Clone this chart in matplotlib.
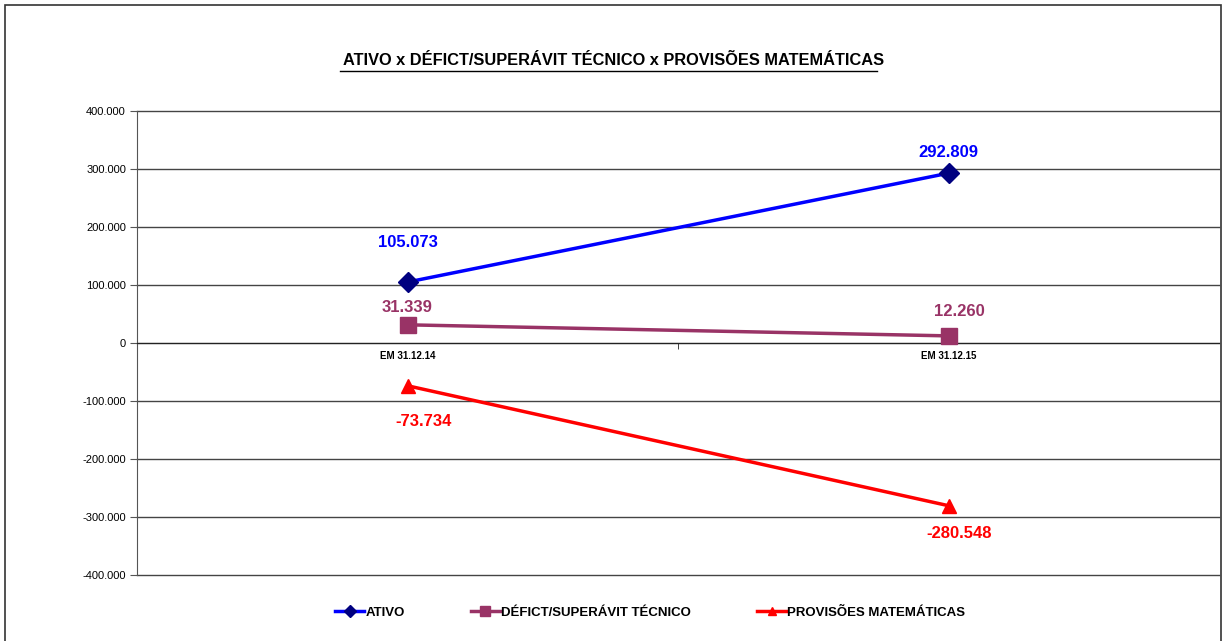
import matplotlib
matplotlib.use("Agg")
import matplotlib.pyplot as plt
from matplotlib.patches import Rectangle

categories = ["EM 31.12.14", "EM 31.12.15"]
ativo = [105073, 292809]
deficit = [31339, 12260]
provisoes = [-73734, -280548]
labels_ativo = ["105.073", "292.809"]
labels_deficit = ["31.339", "12.260"]
labels_prov = ["-73.734", "-280.548"]
yticks = [-400000, -300000, -200000, -100000, 0, 100000, 200000, 300000, 400000]
ytick_labels = ["-400.000", "-300.000", "-200.000", "-100.000", "0", "100.000", "200.000", "300.000", "400.000"]

plt.rcParams['font.family'] = ['Liberation Sans', 'DejaVu Sans']

fig = plt.figure(figsize=(12.27, 6.41), dpi=100)
fig.patches.append(Rectangle((0.004, -0.05), 0.991, 1.042, transform=fig.transFigure,
                             fill=False, edgecolor='#333333', linewidth=1.2))
ax = fig.add_axes([0.1117, 0.1030, 0.8818, 0.7238])

x = list(range(len(categories)))
c_ativo = '#0000FF'
c_def = '#993366'
c_prov = '#FF0000'

ax.plot(x, ativo, color=c_ativo, linewidth=2.5, marker='D', markersize=10,
        markerfacecolor='#000080', markeredgecolor='#000080', label='ATIVO', zorder=5)
ax.plot(x, deficit, color=c_def, linewidth=2.5, marker='s', markersize=11,
        markerfacecolor=c_def, markeredgecolor=c_def, label='DÉFICT/SUPERÁVIT TÉCNICO', zorder=5)
ax.plot(x, provisoes, color=c_prov, linewidth=2.5, marker='^', markersize=10,
        markerfacecolor=c_prov, markeredgecolor=c_prov, label='PROVISÕES MATEMÁTICAS', zorder=5)

# data labels
offs_ativo = [(0, 68000), (0, 35000)]
for i, (v, t) in enumerate(zip(ativo, labels_ativo)):
    ax.text(x[i] + 0.0, v + offs_ativo[i][1], t, color=c_ativo, fontsize=12, fontweight='bold',
            ha='center', va='center')
offs_def = [(0, 30000), (0.02, 42000)]
for i, (v, t) in enumerate(zip(deficit, labels_deficit)):
    ax.text(x[i] + offs_def[i][0], v + offs_def[i][1], t, color=c_def, fontsize=12, fontweight='bold',
            ha='center', va='center')
offs_prov = [(0.03, -61000), (0.02, -48000)]
for i, (v, t) in enumerate(zip(provisoes, labels_prov)):
    ax.text(x[i] + offs_prov[i][0], v + offs_prov[i][1], t, color=c_prov, fontsize=12, fontweight='bold',
            ha='center', va='center')

ax.set_xlim(-0.5, 1.5)
ax.set_ylim(-400000, 400000)
ax.set_yticks(yticks)
ax.set_yticklabels(ytick_labels, fontsize=8)
for yv in yticks:
    ax.axhline(yv, color='#444444', linewidth=1, clip_on=False, zorder=1)

ax.spines['top'].set_visible(False)
ax.spines['right'].set_visible(False)
ax.spines['bottom'].set_position(('data', 0))
ax.spines['bottom'].set_color('#222222')
ax.spines['left'].set_color('#555555')
ax.tick_params(axis='y', length=5, color='#555555', pad=3)

ax.set_xticks(x)
ax.set_xticklabels(categories, fontsize=7, fontweight='bold')
ax.tick_params(axis='x', which='major', length=0, pad=6)
ax.set_xticks([0.5], minor=True)
ax.tick_params(axis='x', which='minor', length=4, direction='out', color='#222222')

fig.text(0.5, 0.906, 'ATIVO x DÉFICT/SUPERÁVIT TÉCNICO x PROVISÕES MATEMÁTICAS',
         ha='center', va='center', fontsize=11.8, fontweight='bold')
# underline
fig.add_artist(plt.Line2D([0.277, 0.715], [0.890, 0.890], transform=fig.transFigure,
                          color='black', linewidth=1))

leg = fig.legend(loc='center', bbox_to_anchor=(0.53, 0.044), ncol=3, frameon=False,
                 prop={'weight': 'bold', 'size': 9.5}, columnspacing=5, handlelength=2.2,
                 handletextpad=0.1, markerscale=0.6)

fig.savefig('out.png', dpi=100)
